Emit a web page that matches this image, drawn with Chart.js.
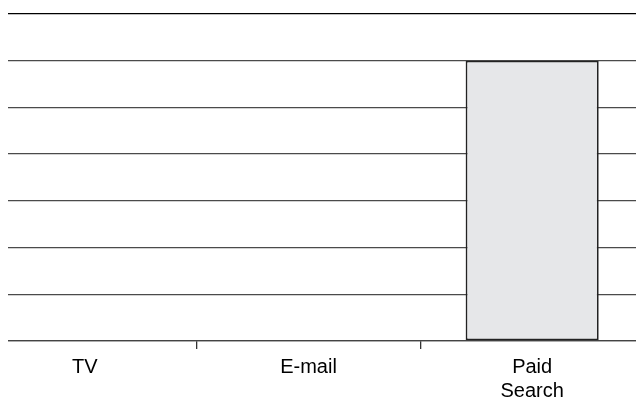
<!DOCTYPE html>
<html>
<head>
<meta charset="utf-8">
<script src="https://cdn.jsdelivr.net/npm/chart.js@4"></script>
<style>
html,body{margin:0;padding:0;background:#fff;overflow:hidden;}
#wrap{width:636px;height:399px;position:relative;overflow:hidden;}
#c{position:absolute;left:-27px;top:0;}
</style>
</head>
<body>
<div id="wrap"><canvas id="c" width="671" height="399"></canvas></div>
<script>
const categories = ['TV', 'E-mail', ['Paid', 'Search']];
const values = [0, 0, 6];
const yMin = 0;
const yMax = 7;
const yStep = 1;

const maskLeft = {
  id: 'maskLeft',
  afterDraw(chart) {
    const ctx = chart.ctx;
    ctx.save();
    ctx.fillStyle = '#ffffff';
    ctx.fillRect(0, 0, 35, chart.chartArea.bottom + 3);
    ctx.restore();
  }
};

new Chart(document.getElementById('c'), {
  type: 'bar',
  data: {
    labels: categories,
    datasets: [{
      data: values,
      backgroundColor: '#e6e7e9',
      borderColor: '#222222',
      borderWidth: 1.8,
      borderSkipped: false,
      barPercentage: 0.595,
      categoryPercentage: 1.0
    }]
  },
  options: {
    responsive: false,
    animation: false,
    devicePixelRatio: 1,
    layout: { padding: { left: 0, right: 0, top: 14, bottom: 0 } },
    plugins: { legend: { display: false }, tooltip: { enabled: false } },
    scales: {
      x: {
        offset: true,
        afterFit: (s) => { s.height = 58; },
        grid: {
          offset: true,
          drawOnChartArea: false,
          drawTicks: true,
          tickLength: 8,
          color: (ctx) => (ctx.index === 1 || ctx.index === 2) ? '#333' : 'rgba(0,0,0,0)',
          lineWidth: 1.3
        },
        border: { display: true, color: '#444', width: 1.3 },
        ticks: {
          color: '#000',
          font: { family: 'Liberation Sans', size: 20, lineHeight: 1.2 },
          padding: 6,
          maxRotation: 0,
          autoSkip: false
        }
      },
      y: {
        min: yMin,
        max: yMax,
        afterFit: (s) => { s.width = 0; },
        ticks: { display: false, stepSize: yStep },
        border: { display: false },
        grid: {
          drawTicks: false,
          color: (ctx) => ctx.tick && ctx.tick.value === yMax ? '#000' : '#4a4a4a',
          lineWidth: 1.3
        }
      }
    }
  },
  plugins: [maskLeft]
});
</script>
</body>
</html>
